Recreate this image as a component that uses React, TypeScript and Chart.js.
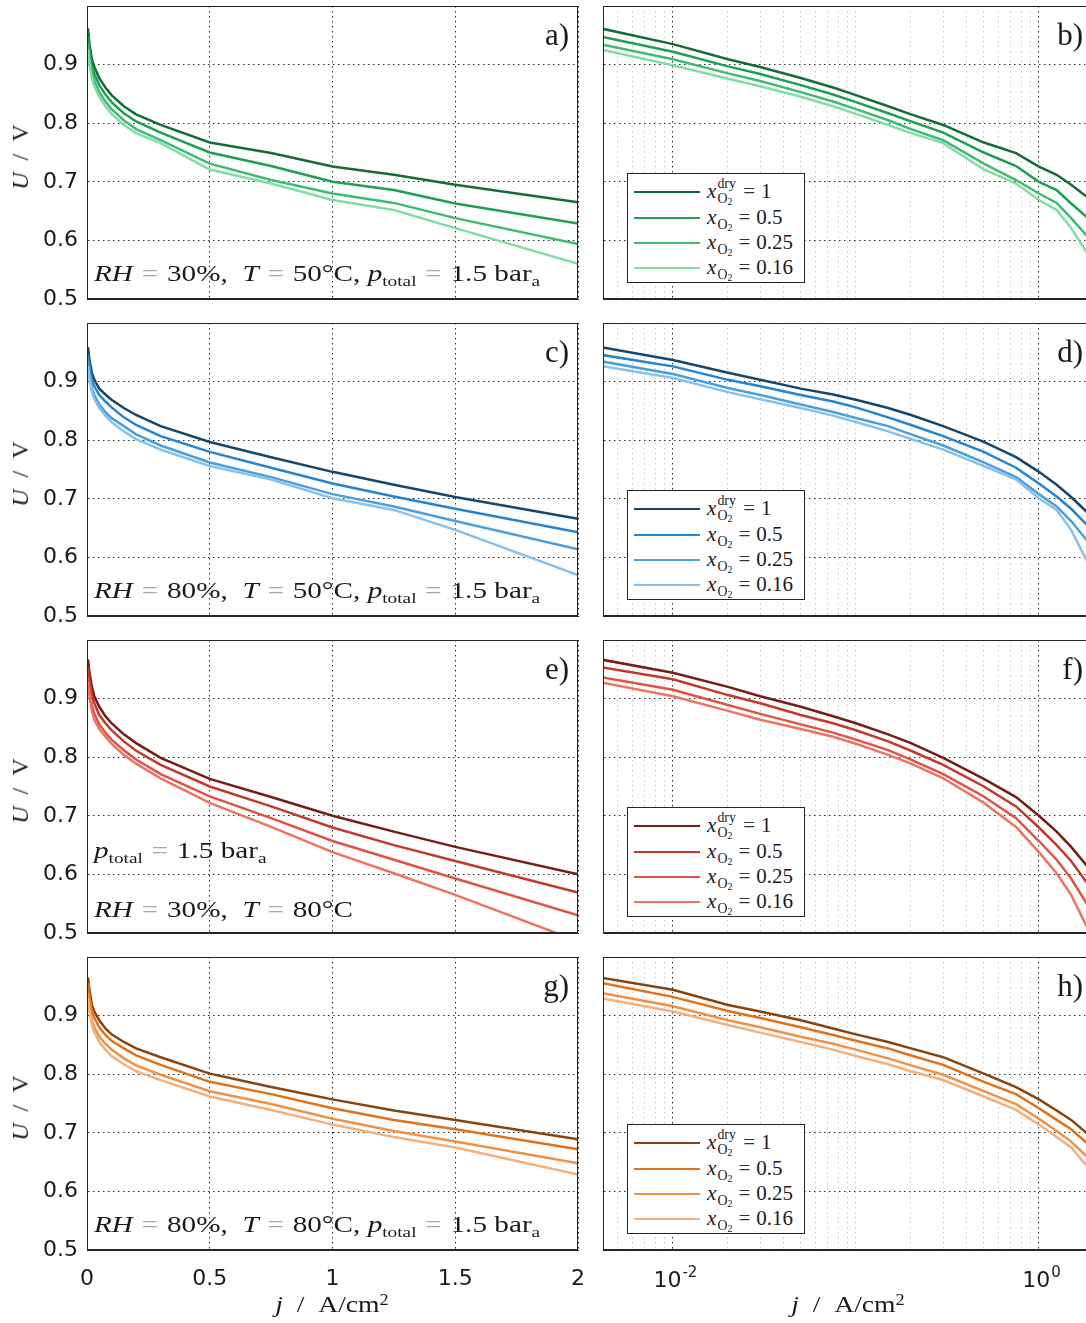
import React, { useEffect, useRef } from 'react';
import { Chart, registerables } from 'chart.js';

Chart.register(...registerables);

// current density j / A/cm^2 (shared by all panels)
const J = [0.004, 0.01, 0.02, 0.03, 0.05, 0.075, 0.1, 0.15, 0.2, 0.3, 0.5, 0.75, 1.0, 1.25, 1.5, 2.0];

// a) / b)  RH = 30 %, T = 50 °C
const U_RH30_T50_X100 = [0.962, 0.935, 0.909, 0.896, 0.877, 0.861, 0.848, 0.829, 0.815, 0.797, 0.767, 0.749, 0.726, 0.712, 0.695, 0.665];
const U_RH30_T50_X050 = [0.948, 0.922, 0.897, 0.884, 0.865, 0.849, 0.836, 0.817, 0.803, 0.784, 0.750, 0.727, 0.700, 0.686, 0.663, 0.629];
const U_RH30_T50_X025 = [0.935, 0.909, 0.885, 0.872, 0.853, 0.837, 0.824, 0.805, 0.790, 0.771, 0.731, 0.703, 0.680, 0.664, 0.638, 0.594];
const U_RH30_T50_X016 = [0.926, 0.899, 0.876, 0.863, 0.845, 0.829, 0.816, 0.797, 0.783, 0.766, 0.721, 0.697, 0.669, 0.652, 0.621, 0.560];

// c) / d)  RH = 80 %, T = 50 °C
const U_RH80_T50_X100 = [0.959, 0.937, 0.915, 0.903, 0.888, 0.878, 0.869, 0.855, 0.843, 0.824, 0.797, 0.771, 0.746, 0.724, 0.703, 0.666];
const U_RH80_T50_X050 = [0.946, 0.926, 0.903, 0.892, 0.877, 0.866, 0.856, 0.839, 0.826, 0.807, 0.780, 0.753, 0.726, 0.704, 0.683, 0.643];
const U_RH80_T50_X025 = [0.935, 0.913, 0.889, 0.877, 0.861, 0.848, 0.838, 0.824, 0.810, 0.791, 0.762, 0.737, 0.708, 0.687, 0.662, 0.614];
const U_RH80_T50_X016 = [0.927, 0.906, 0.882, 0.870, 0.855, 0.842, 0.831, 0.815, 0.802, 0.784, 0.756, 0.733, 0.701, 0.681, 0.647, 0.570];

// e) / f)  RH = 30 %, T = 80 °C
const U_RH30_T80_X100 = [0.967, 0.944, 0.920, 0.904, 0.886, 0.870, 0.858, 0.839, 0.824, 0.799, 0.763, 0.732, 0.700, 0.673, 0.647, 0.600];
const U_RH30_T80_X050 = [0.954, 0.933, 0.906, 0.892, 0.872, 0.858, 0.846, 0.827, 0.811, 0.787, 0.750, 0.716, 0.680, 0.650, 0.623, 0.569];
const U_RH30_T80_X025 = [0.937, 0.915, 0.889, 0.874, 0.856, 0.842, 0.830, 0.812, 0.796, 0.771, 0.733, 0.696, 0.657, 0.625, 0.593, 0.530];
const U_RH30_T80_X016 = [0.928, 0.904, 0.879, 0.864, 0.848, 0.835, 0.823, 0.804, 0.789, 0.764, 0.722, 0.681, 0.638, 0.602, 0.565, 0.486];

// g) / h)  RH = 80 %, T = 80 °C
const U_RH80_T80_X100 = [0.965, 0.944, 0.918, 0.907, 0.892, 0.878, 0.868, 0.855, 0.844, 0.829, 0.801, 0.778, 0.757, 0.738, 0.722, 0.689];
const U_RH80_T80_X050 = [0.956, 0.932, 0.908, 0.896, 0.880, 0.867, 0.857, 0.844, 0.832, 0.816, 0.787, 0.766, 0.742, 0.722, 0.706, 0.672];
const U_RH80_T80_X025 = [0.939, 0.916, 0.892, 0.880, 0.864, 0.852, 0.842, 0.827, 0.815, 0.799, 0.771, 0.749, 0.724, 0.703, 0.685, 0.648];
const U_RH80_T80_X016 = [0.930, 0.907, 0.884, 0.871, 0.855, 0.842, 0.831, 0.817, 0.805, 0.790, 0.762, 0.739, 0.714, 0.693, 0.675, 0.629];

const GREENS = ['#176b3a', '#1f9e56', '#3fbb73', '#82dca8'];
const BLUES = ['#17466b', '#2584cf', '#4c9fdc', '#86c2ec'];
const REDS = ['#751d18', '#c4392c', '#dd5444', '#f07262'];
const ORANGES = ['#874410', '#e0721a', '#ef9246', '#f4b07c'];

const Y_TICKS = [0.5, 0.6, 0.7, 0.8, 0.9, 1.0];
const LOG_TICKS = [
  0.005, 0.006, 0.007, 0.008, 0.009,
  0.01, 0.02, 0.03, 0.04, 0.05, 0.06, 0.07, 0.08, 0.09,
  0.1, 0.2, 0.3, 0.4, 0.5, 0.6, 0.7, 0.8, 0.9,
  1, 2,
];
const LOG_LABEL_VALUES = [0.01, 1];
const LOG_LABEL_EXPS = ['-2', '0'];
const LIN_TICKS = [0, 0.5, 1, 1.5, 2];

const SERIES = [
  [U_RH30_T50_X100, U_RH30_T50_X050, U_RH30_T50_X025, U_RH30_T50_X016],
  [U_RH80_T50_X100, U_RH80_T50_X050, U_RH80_T50_X025, U_RH80_T50_X016],
  [U_RH30_T80_X100, U_RH30_T80_X050, U_RH30_T80_X025, U_RH30_T80_X016],
  [U_RH80_T80_X100, U_RH80_T80_X050, U_RH80_T80_X025, U_RH80_T80_X016],
];
const COLORS = [GREENS, BLUES, REDS, ORANGES];
const LEFT_LETTERS = ['a)', 'c)', 'e)', 'g)'];
const RIGHT_LETTERS = ['b)', 'd)', 'f)', 'h)'];
const LEGEND_VALUES = ['1', '0.5', '0.25', '0.16'];

const ROW_TOPS = [6, 323, 640, 957];
const PLOT_H = 293;
const FRAME = '#262626';
const MAJOR = '#2a2a2a';
const MINOR = '#c8c8c8';
const SANS = "'DejaVu Sans', 'Liberation Sans', Arial, sans-serif";
const SERIF = "'Liberation Serif', 'Times New Roman', serif";
const TXT = '#1a1a1a';
const TICK_SIZE = 22;

const framePlugin = {
  id: 'frame',
  afterDraw(chart: any) {
    const { ctx, chartArea: a } = chart;
    ctx.save();
    ctx.strokeStyle = FRAME;
    ctx.lineWidth = 1;
    ctx.setLineDash([]);
    ctx.strokeRect(a.left + 0.5, a.top + 0.5, a.right - a.left - 1, a.bottom - a.top - 1);
    ctx.restore();
  },
};

// draws "10" with a raised exponent at the positions the log scale gives
const logLabelPlugin = {
  id: 'logLabels',
  afterDraw(chart: any) {
    const xs = chart.scales.x;
    const ctx = chart.ctx;
    ctx.save();
    ctx.fillStyle = TXT;
    ctx.textAlign = 'left';
    ctx.textBaseline = 'alphabetic';
    LOG_LABEL_VALUES.forEach((v, i) => {
      const px = xs.getPixelForValue(v);
      const exp = LOG_LABEL_EXPS[i];
      ctx.font = `${TICK_SIZE}px ${SANS}`;
      const wb = ctx.measureText('10').width;
      ctx.font = `15px ${SANS}`;
      const we = ctx.measureText(exp).width;
      const x0 = px - (wb + we) / 2 + 2;
      const base = xs.top + 37;
      ctx.font = `${TICK_SIZE}px ${SANS}`;
      ctx.fillText('10', x0, base);
      ctx.font = `15px ${SANS}`;
      ctx.fillText(exp, x0 + wb + 1, base - 10);
    });
    ctx.restore();
  },
};

function near(a: number, b: number) {
  return Math.abs(a - b) < 1e-9;
}

function Panel({ row, log }: { row: number; log: boolean }) {
  const ref = useRef<HTMLCanvasElement>(null);
  const isBottom = row === 3;
  const xH = isBottom ? 66 : 16;
  const yW = log ? 8 : 87;
  const canvasLeft = log ? 595 : 0;
  const canvasW = log ? 510 : 592;
  const padRight = canvasW - yW - 491;
  const canvasH = 6 + PLOT_H + xH;

  useEffect(() => {
    const tickFont = { family: SANS, size: TICK_SIZE };
    const xScale: any = log
      ? {
          type: 'logarithmic',
          min: 0.00415,
          max: 2.0,
          afterBuildTicks: (s: any) => {
            s.ticks = LOG_TICKS.map((v) => ({ value: v }));
          },
          ticks: { display: false, autoSkip: false, maxRotation: 0 },
          grid: {
            drawTicks: false,
            lineWidth: 1,
            color: (c: any) => {
              const v = c.tick ? c.tick.value : NaN;
              return near(v, 0.01) || near(v, 1) ? MAJOR : MINOR;
            },
          },
          border: { display: true, color: FRAME, dash: [1.5, 3.5] },
          afterFit: (s: any) => {
            s.height = xH;
            s.paddingLeft = 0;
            s.paddingRight = 0;
          },
        }
      : {
          type: 'linear',
          min: 0,
          max: 2,
          afterBuildTicks: (s: any) => {
            s.ticks = LIN_TICKS.map((v) => ({ value: v }));
          },
          ticks: {
            display: isBottom,
            autoSkip: false,
            maxRotation: 0,
            padding: 16,
            color: TXT,
            font: tickFont,
            callback: (v: any) => String(Number(v)),
          },
          grid: { drawTicks: false, lineWidth: 1, color: MAJOR },
          border: { display: true, color: FRAME, dash: [1.5, 3.5] },
          afterFit: (s: any) => {
            s.height = xH;
            s.paddingLeft = 0;
            s.paddingRight = 0;
          },
        };

    const plugins: any[] = [framePlugin];
    if (log && isBottom) plugins.push(logLabelPlugin);

    const chart = new Chart(ref.current as HTMLCanvasElement, {
      type: 'line',
      data: {
        datasets: SERIES[row].map((u, k) => ({
          label: LEGEND_VALUES[k],
          data: J.map((j, i) => ({ x: j, y: u[i] })),
          borderColor: COLORS[row][k],
          backgroundColor: COLORS[row][k],
          borderWidth: 2.5,
          pointRadius: 0,
          tension: 0,
          fill: false,
          clip: 0,
          order: -k,
        })),
      },
      options: {
        responsive: false,
        animation: false,
        devicePixelRatio: 1,
        events: [],
        parsing: false,
        layout: { autoPadding: false, padding: { top: 6, right: padRight, left: 0, bottom: 0 } },
        plugins: { legend: { display: false }, tooltip: { enabled: false } },
        scales: {
          x: xScale,
          y: {
            type: 'linear',
            min: 0.5,
            max: 1.0,
            afterBuildTicks: (s: any) => {
              s.ticks = Y_TICKS.map((v) => ({ value: v }));
            },
            ticks: {
              display: !log,
              padding: 9,
              color: TXT,
              font: tickFont,
              callback: (v: any) => (Number(v) > 0.95 ? '' : Number(v).toFixed(1)),
            },
            grid: { drawTicks: false, lineWidth: 1, color: MAJOR },
            border: { display: true, color: FRAME, dash: [1.5, 3.5] },
            afterFit: (s: any) => {
              s.width = yW;
              s.paddingTop = 0;
              s.paddingBottom = 0;
            },
          },
        },
      } as any,
      plugins,
    });
    return () => chart.destroy();
  }, [row, log]);

  return (
    <canvas
      ref={ref}
      width={canvasW}
      height={canvasH}
      style={{ position: 'absolute', left: canvasLeft, top: ROW_TOPS[row] - 6, width: canvasW, height: canvasH }}
    />
  );
}

const Sub = ({ children }: { children: React.ReactNode }) => (
  <span style={{ fontSize: '0.66em', verticalAlign: '-0.32em', lineHeight: 0 }}>{children}</span>
);
const Eq = ({ color }: { color: string }) => <span style={{ color, margin: '0 0.3em' }}>=</span>;

function PTotal() {
  return (
    <>
      <i>p</i>
      <Sub>total</Sub>
      <Eq color="#a8a8a8" />
      1.5 bar<Sub>a</Sub>
    </>
  );
}

function RhT({ rh, t }: { rh: string; t: string }) {
  return (
    <>
      <i>RH</i>
      <Eq color="#a8a8a8" />
      {rh}%,{'\u2002'}
      <i>T</i>
      <Eq color="#a8a8a8" />
      {t}°C
    </>
  );
}

const annoStyle = (top: number): React.CSSProperties => ({
  position: 'absolute',
  left: 94,
  top,
  fontFamily: SERIF,
  fontSize: 23,
  lineHeight: '23px',
  color: TXT,
  whiteSpace: 'nowrap',
  transform: 'scaleX(1.27)',
  transformOrigin: '0 0',
});

function XO2({ dry }: { dry: boolean }) {
  return (
    <>
      <i>x</i>
      <span
        style={{
          position: 'relative',
          display: 'inline-block',
          width: dry ? '1.0em' : '0.78em',
          height: 0,
          verticalAlign: 'baseline',
        }}
      >
        {dry && (
          <span style={{ position: 'absolute', left: '0.08em', top: '-1.5em', fontSize: '0.66em', lineHeight: 1 }}>dry</span>
        )}
        <span style={{ position: 'absolute', left: '0.08em', top: '-0.42em', fontSize: '0.66em', lineHeight: 1 }}>
          O<span style={{ fontSize: '0.72em', verticalAlign: '-0.25em' }}>2</span>
        </span>
      </span>
    </>
  );
}

function Legend({ row }: { row: number }) {
  const ys = [18, 44, 69, 94];
  return (
    <div
      style={{
        position: 'absolute',
        left: 627,
        top: ROW_TOPS[row] + 167,
        width: 178,
        height: 110,
        boxSizing: 'border-box',
        border: `1px solid ${FRAME}`,
        background: '#fff',
      }}
    >
      {COLORS[row].map((c, k) => (
        <React.Fragment key={k}>
          <div style={{ position: 'absolute', left: 6, top: ys[k] - 1.25, width: 66, height: 2.5, background: c }} />
          <div
            style={{
              position: 'absolute',
              left: 79,
              top: ys[k] - 13,
              fontFamily: SERIF,
              fontSize: 21,
              lineHeight: '24px',
              color: TXT,
              whiteSpace: 'nowrap',
            }}
          >
            <XO2 dry={k === 0} />
            <span style={{ margin: '0 0.28em', color: '#333' }}>=</span>
            {LEGEND_VALUES[k]}
          </div>
        </React.Fragment>
      ))}
    </div>
  );
}

function Letter({ text, right, top }: { text: string; right: number; top: number }) {
  return (
    <div
      style={{
        position: 'absolute',
        left: right - 60,
        width: 60,
        textAlign: 'right',
        top,
        fontFamily: SERIF,
        fontSize: 31,
        lineHeight: '31px',
        color: TXT,
      }}
    >
      {text}
    </div>
  );
}

function YTitle({ row }: { row: number }) {
  return (
    <div
      style={{
        position: 'absolute',
        left: 20,
        top: ROW_TOPS[row] + 151,
        transform: 'translate(-50%, -50%) rotate(-90deg)',
        fontFamily: SERIF,
        fontSize: 24,
        lineHeight: '24px',
        color: TXT,
        whiteSpace: 'nowrap',
      }}
    >
      <i>U</i>
      {'\u2002/\u2002'}V
    </div>
  );
}

function XTitle({ cx }: { cx: number }) {
  return (
    <div
      style={{
        position: 'absolute',
        left: cx - 100,
        width: 200,
        textAlign: 'center',
        top: 1292,
        fontFamily: SERIF,
        fontSize: 24,
        lineHeight: '24px',
        color: TXT,
        whiteSpace: 'nowrap',
        transform: 'scaleX(1.15)',
        transformOrigin: '50% 0',
      }}
    >
      <i>j</i>
      {'\u2002/\u2002'}A/cm<span style={{ fontSize: '0.66em', verticalAlign: '0.45em', lineHeight: 0 }}>2</span>
    </div>
  );
}

export default function App() {
  const rows = [0, 1, 2, 3];
  return (
    <div
      style={{
        position: 'absolute',
        left: 0,
        top: 0,
        width: 1086,
        height: 1323,
        overflow: 'hidden',
        background: '#fff',
      }}
    >
      {rows.map((r) => (
        <React.Fragment key={r}>
          <Panel row={r} log={false} />
          <Panel row={r} log={true} />
          <YTitle row={r} />
          <Letter text={LEFT_LETTERS[r]} right={569} top={ROW_TOPS[r] + 13} />
          <Letter text={RIGHT_LETTERS[r]} right={1083} top={ROW_TOPS[r] + 13} />
          <Legend row={r} />
        </React.Fragment>
      ))}
      <div style={annoStyle(ROW_TOPS[0] + 256)}>
        <RhT rh="30" t="50" />, <PTotal />
      </div>
      <div style={annoStyle(ROW_TOPS[1] + 256)}>
        <RhT rh="80" t="50" />, <PTotal />
      </div>
      <div style={annoStyle(ROW_TOPS[2] + 199)}>
        <PTotal />
      </div>
      <div style={annoStyle(ROW_TOPS[2] + 258)}>
        <RhT rh="30" t="80" />
      </div>
      <div style={annoStyle(ROW_TOPS[3] + 256)}>
        <RhT rh="80" t="80" />, <PTotal />
      </div>
      <XTitle cx={332} />
      <XTitle cx={848} />
    </div>
  );
}
